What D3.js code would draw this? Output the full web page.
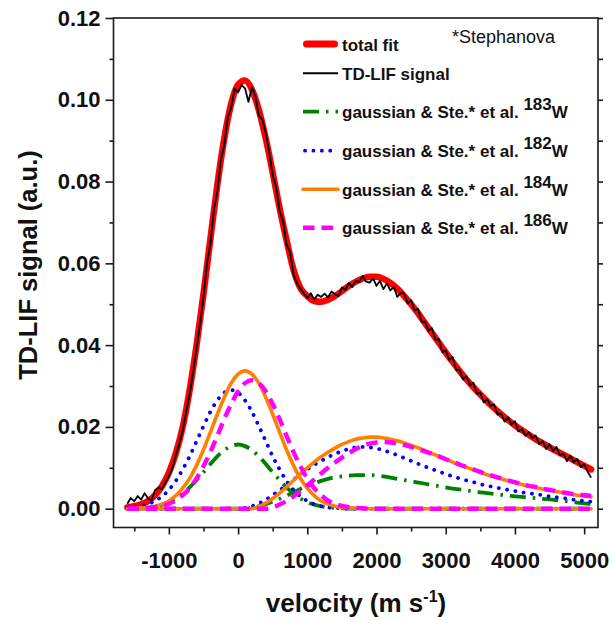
<!DOCTYPE html>
<html>
<head>
<meta charset="utf-8">
<script src="https://cdn.jsdelivr.net/npm/d3@7"></script>
<style>
  html, body { margin: 0; padding: 0; background: #ffffff; }
  svg { display: block; }
</style>
</head>
<body>
<svg id="chart" width="612" height="621"></svg>
<script>
// ---- velocity grid of the fitted curves (m/s) ----
const fitVelocity = [
  -1600, -1500, -1400, -1300, -1200, -1100, -1000, -900, -800, -700,
  -600, -500, -400, -300, -200, -100, 0, 100, 200, 300,
  400, 500, 600, 700, 800, 900, 1000, 1100, 1200, 1300,
  1400, 1500, 1600, 1700, 1800, 1900, 2000, 2100, 2200, 2300,
  2400, 2500, 2600, 2700, 2800, 2900, 3000, 3100, 3200, 3300,
  3400, 3500, 3600, 3700, 3800, 3900, 4000, 4100, 4200, 4300,
  4400, 4500, 4600, 4700, 4800, 4900, 5000, 5100
];

// total fit
const totalFit = [
  0.0003, 0.0006, 0.0011, 0.0019, 0.0033, 0.0055, 0.0088, 0.0135, 0.0200, 0.0290,
  0.0400, 0.0525, 0.0660, 0.0792, 0.0905, 0.0990, 0.1037, 0.1047, 0.1025, 0.0975,
  0.0905, 0.0822, 0.0735, 0.0657, 0.0585, 0.0540, 0.0520, 0.0508, 0.0506, 0.0511,
  0.0520, 0.0532, 0.0545, 0.0555, 0.0563, 0.0567, 0.0567, 0.0562, 0.0552, 0.0538,
  0.0520, 0.0500, 0.0478, 0.0454, 0.0430, 0.0406, 0.0382, 0.0359, 0.0337, 0.0316,
  0.0297, 0.0279, 0.0262, 0.0246, 0.0231, 0.0217, 0.0204, 0.0192, 0.0181, 0.0170,
  0.0160, 0.0150, 0.0141, 0.0132, 0.0123, 0.0114, 0.0105, 0.0096
];

// 183W : gaussian part and Stephanova part
const gauss183 = [
  0.0000, 0.0001, 0.0002, 0.0003, 0.0006, 0.0010, 0.0016, 0.0025, 0.0037, 0.0052,
  0.0070, 0.0089, 0.0109, 0.0128, 0.0143, 0.0153, 0.0157, 0.0153, 0.0143, 0.0128,
  0.0109, 0.0089, 0.0070, 0.0052, 0.0037, 0.0025, 0.0016, 0.0010, 0.0006, 0.0003,
  0.0002, 0.0001, 0, 0, 0, 0, 0, 0, 0, 0,
  0, 0, 0, 0, 0, 0, 0, 0, 0, 0,
  0, 0, 0, 0, 0, 0, 0, 0, 0, 0,
  0, 0, 0, 0, 0, 0, 0, 0
];
const ste183 = [
  0, 0, 0, 0, 0, 0, 0, 0, 0, 0,
  0, 0, 0, 0, 0, 0, 0, 0, 0.0002, 0.0006,
  0.0011, 0.0017, 0.0024, 0.0032, 0.0040, 0.0048, 0.0055, 0.0062, 0.0068, 0.0073,
  0.0077, 0.0079, 0.0081, 0.0082, 0.0082, 0.0082, 0.0081, 0.0079, 0.0076, 0.0073,
  0.0070, 0.0067, 0.0064, 0.0061, 0.0058, 0.0055, 0.0052, 0.0049, 0.0047, 0.0045,
  0.0042, 0.0040, 0.0038, 0.0036, 0.0034, 0.0032, 0.0030, 0.0029, 0.0027, 0.0026,
  0.0024, 0.0023, 0.0021, 0.0019, 0.0017, 0.0015, 0.0013, 0.0012
];

// 182W
const gauss182 = [
  0.0002, 0.0003, 0.0006, 0.0011, 0.0019, 0.0030, 0.0046, 0.0068, 0.0096, 0.0128,
  0.0165, 0.0202, 0.0237, 0.0265, 0.0284, 0.0290, 0.0284, 0.0265, 0.0237, 0.0202,
  0.0165, 0.0128, 0.0096, 0.0068, 0.0046, 0.0030, 0.0019, 0.0011, 0.0006, 0.0003,
  0.0002, 0.0001, 0, 0, 0, 0, 0, 0, 0, 0,
  0, 0, 0, 0, 0, 0, 0, 0, 0, 0,
  0, 0, 0, 0, 0, 0, 0, 0, 0, 0,
  0, 0, 0, 0, 0, 0, 0, 0
];
const ste182 = [
  0, 0, 0, 0, 0, 0, 0, 0, 0, 0,
  0, 0, 0, 0, 0, 0, 0, 0.0002, 0.0006, 0.0013,
  0.0022, 0.0033, 0.0045, 0.0058, 0.0071, 0.0084, 0.0096, 0.0107, 0.0117, 0.0126,
  0.0134, 0.0141, 0.0146, 0.0150, 0.0151, 0.0150, 0.0147, 0.0143, 0.0137, 0.0131,
  0.0124, 0.0117, 0.0110, 0.0103, 0.0097, 0.0091, 0.0085, 0.0079, 0.0074, 0.0069,
  0.0065, 0.0060, 0.0056, 0.0053, 0.0049, 0.0046, 0.0043, 0.0040, 0.0038, 0.0035,
  0.0033, 0.0030, 0.0028, 0.0026, 0.0023, 0.0021, 0.0019, 0.0017
];

// 184W
const gauss184 = [
  0.0000, 0.0001, 0.0002, 0.0003, 0.0006, 0.0011, 0.0019, 0.0032, 0.0050, 0.0074,
  0.0106, 0.0144, 0.0187, 0.0231, 0.0272, 0.0307, 0.0329, 0.0337, 0.0329, 0.0307,
  0.0272, 0.0231, 0.0187, 0.0144, 0.0106, 0.0074, 0.0050, 0.0032, 0.0019, 0.0011,
  0.0006, 0.0003, 0.0002, 0.0001, 0, 0, 0, 0, 0, 0,
  0, 0, 0, 0, 0, 0, 0, 0, 0, 0,
  0, 0, 0, 0, 0, 0, 0, 0, 0, 0,
  0, 0, 0, 0, 0, 0, 0, 0
];
const ste184 = [
  0, 0, 0, 0, 0, 0, 0, 0, 0, 0,
  0, 0, 0, 0, 0, 0, 0, 0, 0, 0.0005,
  0.0014, 0.0025, 0.0038, 0.0053, 0.0069, 0.0085, 0.0100, 0.0114, 0.0127, 0.0138,
  0.0148, 0.0157, 0.0164, 0.0170, 0.0173, 0.0175, 0.0175, 0.0173, 0.0170, 0.0166,
  0.0161, 0.0155, 0.0149, 0.0142, 0.0135, 0.0128, 0.0121, 0.0114, 0.0107, 0.0101,
  0.0095, 0.0089, 0.0083, 0.0078, 0.0073, 0.0068, 0.0064, 0.0059, 0.0055, 0.0052,
  0.0048, 0.0045, 0.0042, 0.0039, 0.0036, 0.0033, 0.0031, 0.0029
];

// 186W
const gauss186 = [
  0, 0, 0.0001, 0.0002, 0.0004, 0.0007, 0.0012, 0.0020, 0.0033, 0.0050,
  0.0074, 0.0104, 0.0139, 0.0178, 0.0219, 0.0256, 0.0287, 0.0307, 0.0314, 0.0307,
  0.0287, 0.0256, 0.0219, 0.0178, 0.0139, 0.0104, 0.0074, 0.0050, 0.0033, 0.0020,
  0.0012, 0.0007, 0.0004, 0.0002, 0.0001, 0, 0, 0, 0, 0,
  0, 0, 0, 0, 0, 0, 0, 0, 0, 0,
  0, 0, 0, 0, 0, 0, 0, 0, 0, 0,
  0, 0, 0, 0, 0, 0, 0, 0
];
const ste186 = [
  0, 0, 0, 0, 0, 0, 0, 0, 0, 0,
  0, 0, 0, 0, 0, 0, 0, 0, 0, 0,
  0, 0.0003, 0.0010, 0.0019, 0.0030, 0.0043, 0.0057, 0.0071, 0.0086, 0.0100,
  0.0113, 0.0125, 0.0136, 0.0146, 0.0154, 0.0159, 0.0162, 0.0163, 0.0162, 0.0160,
  0.0156, 0.0151, 0.0146, 0.0140, 0.0134, 0.0128, 0.0121, 0.0115, 0.0108, 0.0102,
  0.0096, 0.0090, 0.0084, 0.0079, 0.0074, 0.0069, 0.0065, 0.0060, 0.0056, 0.0053,
  0.0049, 0.0046, 0.0043, 0.0040, 0.0037, 0.0035, 0.0033, 0.0031
];

// ---- measured TD-LIF signal ----
const signalVelocity = [
  -1600, -1550, -1500, -1450, -1400, -1350, -1300, -1250, -1200, -1150,
  -1100, -1050, -1000, -950, -900, -850, -800, -750, -700, -650,
  -600, -550, -500, -450, -400, -350, -300, -250, -200, -150,
  -100, -50, 0, 50, 100, 150, 200, 250, 300, 350,
  400, 450, 500, 550, 600, 650, 700, 750, 800, 850,
  900, 950, 1000, 1050, 1100, 1150, 1200, 1250, 1300, 1350,
  1400, 1450, 1500, 1550, 1600, 1650, 1700, 1750, 1800, 1850,
  1900, 1950, 2000, 2050, 2100, 2150, 2200, 2250, 2300, 2350,
  2400, 2450, 2500, 2550, 2600, 2650, 2700, 2750, 2800, 2850,
  2900, 2950, 3000, 3050, 3100, 3150, 3200, 3250, 3300, 3350,
  3400, 3450, 3500, 3550, 3600, 3650, 3700, 3750, 3800, 3850,
  3900, 3950, 4000, 4050, 4100, 4150, 4200, 4250, 4300, 4350,
  4400, 4450, 4500, 4550, 4600, 4650, 4700, 4750, 4800, 4850,
  4900, 4950, 5000, 5050, 5100
];
const tdlifSignal = [
  0.0012, 0.0026, 0.0018, 0.0031, 0.0022, 0.0038, 0.0025, 0.0020, 0.0045, 0.0052,
  0.0048, 0.0064, 0.0079, 0.0098, 0.0131, 0.0158, 0.0192, 0.0236, 0.0281, 0.0332,
  0.0392, 0.0451, 0.0518, 0.0600, 0.0647, 0.0731, 0.0776, 0.0852, 0.0889, 0.0956,
  0.0981, 0.1027, 0.1018, 0.1036, 0.1028, 0.0995, 0.1031, 0.1008, 0.0961, 0.0952,
  0.0918, 0.0872, 0.0815, 0.0787, 0.0728, 0.0703, 0.0646, 0.0628, 0.0574, 0.0551,
  0.0538, 0.0527, 0.0515, 0.0527, 0.0512, 0.0523, 0.0518, 0.0526, 0.0517, 0.0531,
  0.0524, 0.0520, 0.0541, 0.0535, 0.0552, 0.0542, 0.0557, 0.0554, 0.0569, 0.0555,
  0.0553, 0.0563, 0.0545, 0.0557, 0.0537, 0.0551, 0.0534, 0.0542, 0.0518, 0.0528,
  0.0526, 0.0502, 0.0510, 0.0485, 0.0489, 0.0457, 0.0458, 0.0435, 0.0442, 0.0413,
  0.0415, 0.0383, 0.0387, 0.0364, 0.0371, 0.0339, 0.0340, 0.0316, 0.0324, 0.0302,
  0.0308, 0.0281, 0.0283, 0.0260, 0.0268, 0.0251, 0.0255, 0.0230, 0.0233, 0.0213,
  0.0224, 0.0206, 0.0214, 0.0189, 0.0195, 0.0178, 0.0187, 0.0173, 0.0179, 0.0158,
  0.0165, 0.0146, 0.0158, 0.0141, 0.0151, 0.0130, 0.0135, 0.0116, 0.0130, 0.0113,
  0.0122, 0.0102, 0.0109, 0.0091, 0.0076
];

// ---- axis ticks ----
const xTicks = [-1000, 0, 1000, 2000, 3000, 4000, 5000];
const xMinorTicks = [-1500, -500, 500, 1500, 2500, 3500, 4500];
const yTicks = [0, 0.02, 0.04, 0.06, 0.08, 0.10, 0.12];
const yMinorTicks = [0.01, 0.03, 0.05, 0.07, 0.09, 0.11];

// ---- legend ----
const isotopes = ["183", "182", "184", "186"];
const isotopeColors = ["#008000", "#0000ff", "#ff8000", "#ff00ff"];

const FONT = "'Liberation Sans', Arial, Helvetica, sans-serif";
const svg = d3.select("#chart");
svg.append("rect").attr("width", 612).attr("height", 621).attr("fill", "#ffffff");

const plot = { left: 113.5, right: 598, top: 18, bottom: 527.5 };
const x = d3.scaleLinear().domain([-1800, 5200]).range([plot.left, plot.right]);
const y = d3.scaleLinear().domain([-0.0046, 0.12]).range([plot.bottom, plot.top]);

// line styles per isotope
const isoStyle = [
  { color: isotopeColors[0], width: 3.8, dash: "16,7,2.5,7", cap: "butt" },
  { color: isotopeColors[1], width: 3.8, dash: "0.1,8.3", cap: "round" },
  { color: isotopeColors[2], width: 3.6, dash: null, cap: "round" },
  { color: isotopeColors[3], width: 4.4, dash: "11.5,7", cap: "butt" }
];
const componentSets = [
  [gauss183, ste183],
  [gauss182, ste182],
  [gauss184, ste184],
  [gauss186, ste186]
];

function lineFrom(xs, ys, curve) {
  return d3.line()
    .x((d, i) => x(xs[i]))
    .y(d => y(d))
    .curve(curve)(ys);
}

// total fit
svg.append("path")
  .attr("d", lineFrom(fitVelocity, totalFit, d3.curveMonotoneX))
  .attr("fill", "none").attr("stroke", "#ff0000")
  .attr("stroke-width", 6.5).attr("stroke-linejoin", "round").attr("stroke-linecap", "round");

// measured signal
svg.append("path")
  .attr("d", lineFrom(signalVelocity, tdlifSignal, d3.curveLinear))
  .attr("fill", "none").attr("stroke", "#000000")
  .attr("stroke-width", 1.8).attr("stroke-linejoin", "round");

// fitted components
componentSets.forEach((set, k) => {
  const st = isoStyle[k];
  set.forEach(vals => {
    svg.append("path")
      .attr("d", lineFrom(fitVelocity, vals, d3.curveMonotoneX))
      .attr("fill", "none").attr("stroke", st.color)
      .attr("stroke-width", st.width)
      .attr("stroke-linecap", st.cap)
      .attr("stroke-linejoin", "round")
      .attr("stroke-dasharray", st.dash);
  });
});

// ---- frame ----
svg.append("rect")
  .attr("x", plot.left).attr("y", plot.top)
  .attr("width", plot.right - plot.left).attr("height", plot.bottom - plot.top)
  .attr("fill", "none").attr("stroke", "#1a1a1a").attr("stroke-width", 1.6);

// ---- axes ----
function styleAxis(g) {
  g.select(".domain").remove();
  g.selectAll(".tick line").attr("stroke", "#1a1a1a").attr("stroke-width", 1.6);
  g.selectAll(".tick text")
    .attr("font-family", FONT).attr("font-size", 22).attr("font-weight", "bold").attr("fill", "#111");
}

svg.append("g").attr("transform", `translate(0,${plot.bottom})`)
  .call(d3.axisBottom(x).tickValues(xTicks).tickSize(7).tickPadding(18).tickFormat(d => String(d)))
  .call(styleAxis);
svg.append("g").attr("transform", `translate(0,${plot.bottom})`)
  .call(d3.axisBottom(x).tickValues(xMinorTicks).tickSize(4).tickFormat(""))
  .call(styleAxis);

svg.append("g").attr("transform", `translate(${plot.left},0)`)
  .call(d3.axisLeft(y).tickValues(yTicks).tickSize(8).tickPadding(5).tickFormat(d3.format(".2f")))
  .call(styleAxis);
svg.append("g").attr("transform", `translate(${plot.left},0)`)
  .call(d3.axisLeft(y).tickValues(yMinorTicks).tickSize(4).tickFormat(""))
  .call(styleAxis);

svg.append("g").attr("transform", `translate(${plot.right},0)`)
  .call(d3.axisRight(y).tickValues(yTicks.concat(yMinorTicks)).tickSize(5).tickFormat(""))
  .call(styleAxis);

// ---- axis titles ----
svg.append("text")
  .attr("transform", "translate(37,265) rotate(-90)")
  .attr("text-anchor", "middle")
  .attr("font-family", FONT).attr("font-size", 25.5).attr("font-weight", "bold").attr("fill", "#111")
  .text("TD-LIF signal (a.u.)");

const xt = svg.append("text")
  .attr("x", 356).attr("y", 612)
  .attr("text-anchor", "middle")
  .attr("font-family", FONT).attr("font-size", 26).attr("font-weight", "bold").attr("fill", "#111");
xt.append("tspan").text("velocity (m s");
xt.append("tspan").attr("font-size", 16).attr("dy", -10).text("-1");
xt.append("tspan").attr("dy", 10).text(")");

// ---- legend ----
const legend = svg.append("g");
const rowY = [44, 73.3, 111.7, 150.7, 189.3, 227.7];
const lx0 = 303, lx1 = 338, tx = 342;

legend.append("line").attr("x1", lx0 + 3.5).attr("x2", lx1 - 3.5).attr("y1", rowY[0]).attr("y2", rowY[0])
  .attr("stroke", "#ff0000").attr("stroke-width", 7).attr("stroke-linecap", "round");
legend.append("line").attr("x1", lx0).attr("x2", lx1).attr("y1", rowY[1]).attr("y2", rowY[1])
  .attr("stroke", "#000").attr("stroke-width", 2);

const legendText = (row, label) => legend.append("text")
  .attr("x", tx).attr("y", rowY[row] + 6.5)
  .attr("font-family", FONT).attr("font-size", 17).attr("font-weight", "bold").attr("fill", "#111")
  .text(label);
legendText(0, "total fit");
legendText(1, "TD-LIF signal");

isotopes.forEach((iso, k) => {
  const row = k + 2;
  const st = isoStyle[k];
  const lineStartX = st.cap === "round" && st.dash ? lx0 + 2 : lx0;
  legend.append("line")
    .attr("x1", lineStartX).attr("x2", lx1).attr("y1", rowY[row]).attr("y2", rowY[row])
    .attr("stroke", st.color).attr("stroke-width", st.width)
    .attr("stroke-linecap", st.cap).attr("stroke-dasharray", st.dash);
  const t = legendText(row, "gaussian & Ste.* et al. ");
  t.append("tspan").attr("dy", -8).text(iso);
  t.append("tspan").attr("dy", 8).text("W");
});

// author note
svg.append("text")
  .attr("x", 452).attr("y", 43)
  .attr("font-family", FONT).attr("font-size", 18).attr("fill", "#111")
  .text("*Stephanova");
</script>
</body>
</html>
